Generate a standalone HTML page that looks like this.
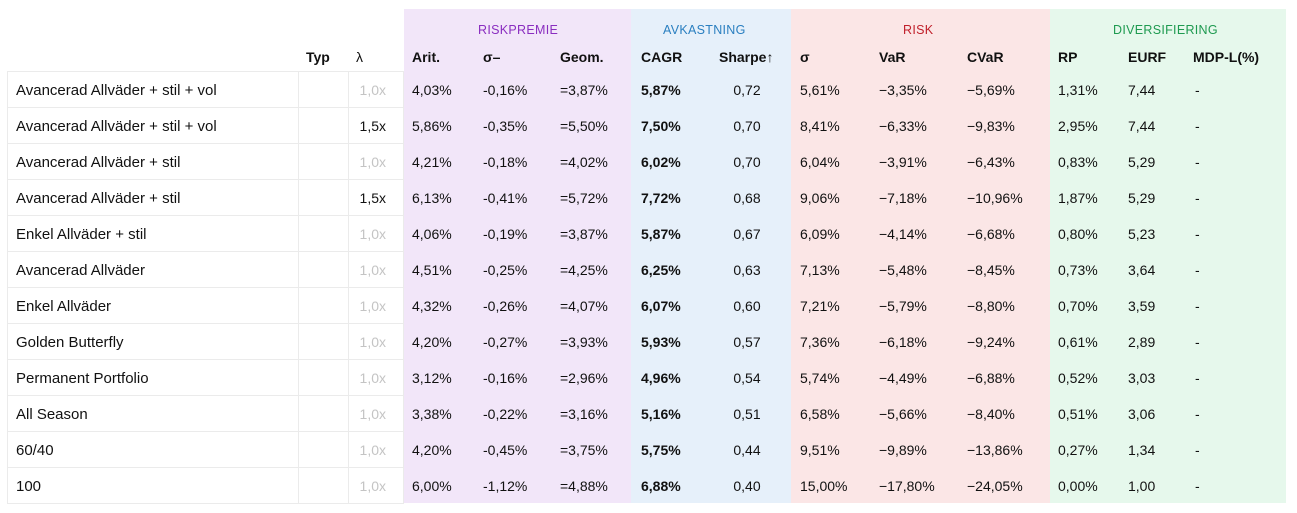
<!DOCTYPE html>
<html><head><meta charset="utf-8"><style>
*{margin:0;padding:0;box-sizing:border-box}
body{width:1297px;height:513px;background:#fff;font-family:"Liberation Sans",sans-serif;color:#111;position:relative;overflow:hidden}
.band{position:absolute;top:9px;height:494px}
.g{position:absolute;top:23px;font-size:12.5px;letter-spacing:0.3px}
.h{position:absolute;top:49px;font-size:14px;font-weight:bold}
.r{position:absolute;left:7px;width:1290px;height:36px}
.r span{position:absolute;top:10px;font-size:14px;white-space:nowrap}
.lc{position:absolute;left:7px;width:397px;height:36px;border:1px solid #ebebeb;border-bottom:none}
.lc i{position:absolute;top:0;bottom:0;border-left:1px solid #ebebeb}
.n{left:9px!important;font-size:15px!important;top:10px!important}
.l{left:340px;width:39px;text-align:right}
.dim{color:#c4c4c4}
.c1{left:405px}.c2{left:476px}.c3{left:553px}.c4{left:634px;font-weight:bold}
.c5{left:712px;width:56px;text-align:center}.c6{left:793px}.c7{left:872px}.c8{left:960px}
.c9{left:1051px}.c10{left:1121px}.c11{left:1188px}
</style></head><body>
<div class="band" style="left:404px;width:227px;background:#f2e6f9"></div>
<div class="band" style="left:631px;width:160px;background:#e6f0fa"></div>
<div class="band" style="left:791px;width:259px;background:#fbe6e6"></div>
<div class="band" style="left:1050px;width:236px;background:#e6f8ec"></div>
<div class="g" style="left:478px;color:#8a2dc0">RISKPREMIE</div>
<div class="g" style="left:663px;color:#2a7fc0">AVKASTNING</div>
<div class="g" style="left:903px;color:#c01f2a">RISK</div>
<div class="g" style="left:1113px;color:#1e9a50">DIVERSIFIERING</div>
<div class="h" style="left:306px">Typ</div>
<div class="h" style="left:356px;font-weight:normal">λ</div>
<div class="h" style="left:412px">Arit.</div>
<div class="h" style="left:483px">σ–</div>
<div class="h" style="left:560px">Geom.</div>
<div class="h" style="left:641px">CAGR</div>
<div class="h" style="left:719px">Sharpe↑</div>
<div class="h" style="left:800px">σ</div>
<div class="h" style="left:879px">VaR</div>
<div class="h" style="left:967px">CVaR</div>
<div class="h" style="left:1058px">RP</div>
<div class="h" style="left:1128px">EURF</div>
<div class="h" style="left:1193px">MDP-L(%)</div>

<div class="lc" style="top:71px"><i style="left:290px"></i><i style="left:340px"></i></div>
<div class="lc" style="top:107px"><i style="left:290px"></i><i style="left:340px"></i></div>
<div class="lc" style="top:143px"><i style="left:290px"></i><i style="left:340px"></i></div>
<div class="lc" style="top:179px"><i style="left:290px"></i><i style="left:340px"></i></div>
<div class="lc" style="top:215px"><i style="left:290px"></i><i style="left:340px"></i></div>
<div class="lc" style="top:251px"><i style="left:290px"></i><i style="left:340px"></i></div>
<div class="lc" style="top:287px"><i style="left:290px"></i><i style="left:340px"></i></div>
<div class="lc" style="top:323px"><i style="left:290px"></i><i style="left:340px"></i></div>
<div class="lc" style="top:359px"><i style="left:290px"></i><i style="left:340px"></i></div>
<div class="lc" style="top:395px"><i style="left:290px"></i><i style="left:340px"></i></div>
<div class="lc" style="top:431px"><i style="left:290px"></i><i style="left:340px"></i></div>
<div class="lc" style="top:467px;height:37px;border-bottom:1px solid #ebebeb"><i style="left:290px"></i><i style="left:340px"></i></div>

<div class="r" style="top:72px"><span class="n">Avancerad Allväder + stil + vol</span><span class="l dim">1,0x</span><span class="c1">4,03%</span><span class="c2">-0,16%</span><span class="c3">=3,87%</span><span class="c4">5,87%</span><span class="c5">0,72</span><span class="c6">5,61%</span><span class="c7">−3,35%</span><span class="c8">−5,69%</span><span class="c9">1,31%</span><span class="c10">7,44</span><span class="c11">-</span></div>
<div class="r" style="top:108px"><span class="n">Avancerad Allväder + stil + vol</span><span class="l">1,5x</span><span class="c1">5,86%</span><span class="c2">-0,35%</span><span class="c3">=5,50%</span><span class="c4">7,50%</span><span class="c5">0,70</span><span class="c6">8,41%</span><span class="c7">−6,33%</span><span class="c8">−9,83%</span><span class="c9">2,95%</span><span class="c10">7,44</span><span class="c11">-</span></div>
<div class="r" style="top:144px"><span class="n">Avancerad Allväder + stil</span><span class="l dim">1,0x</span><span class="c1">4,21%</span><span class="c2">-0,18%</span><span class="c3">=4,02%</span><span class="c4">6,02%</span><span class="c5">0,70</span><span class="c6">6,04%</span><span class="c7">−3,91%</span><span class="c8">−6,43%</span><span class="c9">0,83%</span><span class="c10">5,29</span><span class="c11">-</span></div>
<div class="r" style="top:180px"><span class="n">Avancerad Allväder + stil</span><span class="l">1,5x</span><span class="c1">6,13%</span><span class="c2">-0,41%</span><span class="c3">=5,72%</span><span class="c4">7,72%</span><span class="c5">0,68</span><span class="c6">9,06%</span><span class="c7">−7,18%</span><span class="c8">−10,96%</span><span class="c9">1,87%</span><span class="c10">5,29</span><span class="c11">-</span></div>
<div class="r" style="top:216px"><span class="n">Enkel Allväder + stil</span><span class="l dim">1,0x</span><span class="c1">4,06%</span><span class="c2">-0,19%</span><span class="c3">=3,87%</span><span class="c4">5,87%</span><span class="c5">0,67</span><span class="c6">6,09%</span><span class="c7">−4,14%</span><span class="c8">−6,68%</span><span class="c9">0,80%</span><span class="c10">5,23</span><span class="c11">-</span></div>
<div class="r" style="top:252px"><span class="n">Avancerad Allväder</span><span class="l dim">1,0x</span><span class="c1">4,51%</span><span class="c2">-0,25%</span><span class="c3">=4,25%</span><span class="c4">6,25%</span><span class="c5">0,63</span><span class="c6">7,13%</span><span class="c7">−5,48%</span><span class="c8">−8,45%</span><span class="c9">0,73%</span><span class="c10">3,64</span><span class="c11">-</span></div>
<div class="r" style="top:288px"><span class="n">Enkel Allväder</span><span class="l dim">1,0x</span><span class="c1">4,32%</span><span class="c2">-0,26%</span><span class="c3">=4,07%</span><span class="c4">6,07%</span><span class="c5">0,60</span><span class="c6">7,21%</span><span class="c7">−5,79%</span><span class="c8">−8,80%</span><span class="c9">0,70%</span><span class="c10">3,59</span><span class="c11">-</span></div>
<div class="r" style="top:324px"><span class="n">Golden Butterfly</span><span class="l dim">1,0x</span><span class="c1">4,20%</span><span class="c2">-0,27%</span><span class="c3">=3,93%</span><span class="c4">5,93%</span><span class="c5">0,57</span><span class="c6">7,36%</span><span class="c7">−6,18%</span><span class="c8">−9,24%</span><span class="c9">0,61%</span><span class="c10">2,89</span><span class="c11">-</span></div>
<div class="r" style="top:360px"><span class="n">Permanent Portfolio</span><span class="l dim">1,0x</span><span class="c1">3,12%</span><span class="c2">-0,16%</span><span class="c3">=2,96%</span><span class="c4">4,96%</span><span class="c5">0,54</span><span class="c6">5,74%</span><span class="c7">−4,49%</span><span class="c8">−6,88%</span><span class="c9">0,52%</span><span class="c10">3,03</span><span class="c11">-</span></div>
<div class="r" style="top:396px"><span class="n">All Season</span><span class="l dim">1,0x</span><span class="c1">3,38%</span><span class="c2">-0,22%</span><span class="c3">=3,16%</span><span class="c4">5,16%</span><span class="c5">0,51</span><span class="c6">6,58%</span><span class="c7">−5,66%</span><span class="c8">−8,40%</span><span class="c9">0,51%</span><span class="c10">3,06</span><span class="c11">-</span></div>
<div class="r" style="top:432px"><span class="n">60/40</span><span class="l dim">1,0x</span><span class="c1">4,20%</span><span class="c2">-0,45%</span><span class="c3">=3,75%</span><span class="c4">5,75%</span><span class="c5">0,44</span><span class="c6">9,51%</span><span class="c7">−9,89%</span><span class="c8">−13,86%</span><span class="c9">0,27%</span><span class="c10">1,34</span><span class="c11">-</span></div>
<div class="r" style="top:468px"><span class="n">100</span><span class="l dim">1,0x</span><span class="c1">6,00%</span><span class="c2">-1,12%</span><span class="c3">=4,88%</span><span class="c4">6,88%</span><span class="c5">0,40</span><span class="c6">15,00%</span><span class="c7">−17,80%</span><span class="c8">−24,05%</span><span class="c9">0,00%</span><span class="c10">1,00</span><span class="c11">-</span></div>
</body></html>
